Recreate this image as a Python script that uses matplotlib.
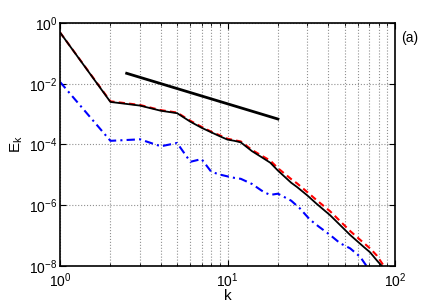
import numpy as np
import matplotlib.pyplot as plt
from matplotlib.ticker import LogLocator, NullFormatter

plt.rcParams['font.family'] = ['Liberation Sans', 'DejaVu Sans']
plt.rcParams['mathtext.fontset'] = 'custom'
plt.rcParams['mathtext.rm'] = 'Liberation Sans'

# spectra, values as log10(E_k)
k_black = [1, 2, 3, 4, 5, 6, 7, 8, 9, 10, 11, 12, 14, 16, 18, 20, 24, 26, 30,
           34, 41, 49, 54, 65, 71, 78, 85]
logE_black = [-0.31, -2.6, -2.72, -2.89, -2.97, -3.25, -3.45, -3.6, -3.73, -3.84,
              -3.88, -3.93, -4.22, -4.42, -4.6, -4.86, -5.26, -5.4, -5.68, -5.95,
              -6.33, -6.75, -6.98, -7.37, -7.55, -7.82, -8.05]

k_red = [1, 2, 3, 4, 5, 6, 7, 8, 9, 10, 11, 12, 14, 16, 18, 20, 24, 26, 30,
         34, 41, 49, 54, 65, 71, 78, 87]
logE_red = [-0.31, -2.58, -2.7, -2.87, -2.95, -3.22, -3.42, -3.58, -3.7, -3.81,
            -3.86, -3.9, -4.18, -4.37, -4.53, -4.78, -5.14, -5.28, -5.57, -5.83,
            -6.2, -6.62, -6.85, -7.24, -7.42, -7.66, -8.05]

k_blue = [1, 2, 3, 4, 5, 6, 7, 8, 9, 10, 11, 12, 14, 16, 17, 18, 20, 24, 27,
          31, 35, 41, 47, 54, 62, 68]
logE_blue = [-1.94, -3.88, -3.83, -4.06, -3.95, -4.57, -4.48, -4.9, -4.99, -5.05,
             -5.1, -5.13, -5.3, -5.52, -5.6, -5.66, -5.62, -5.85, -6.1, -6.47,
             -6.7, -6.98, -7.25, -7.42, -7.7, -8.02]

# k^(-5/3) reference line
k_ref = [2.5, 20]
E_ref = [0.022, 0.022 * (20 / 2.5) ** (-5 / 3)]

fig = plt.figure(figsize=(4.36, 3.06), dpi=100)
ax = fig.add_axes([0.1376, 0.1307, 0.7684, 0.7943])

ax.loglog(k_red, 10 ** np.array(logE_red), color='red', ls='--', lw=1.5, dashes=(3, 2))
ax.loglog(k_black, 10 ** np.array(logE_black), color='black', ls='-', lw=1.3)
ax.loglog(k_blue, 10 ** np.array(logE_blue), color='blue', ls='-.', lw=1.5,
          dashes=(4, 2, 1, 2))
ax.loglog(k_ref, E_ref, color='black', lw=2)

ax.set_xlim(1, 100)
ax.set_ylim(1e-8, 1)
ax.set_yticks([1e-8, 1e-6, 1e-4, 1e-2, 1])
ax.yaxis.set_minor_locator(LogLocator(base=10, subs=[]))
ax.xaxis.set_minor_locator(LogLocator(base=10, subs=np.arange(2, 10)))
ax.xaxis.set_minor_formatter(NullFormatter())

ax.grid(True, which='major', color='#909090', ls=':', lw=0.8)
ax.grid(True, which='minor', axis='x', color='#909090', ls=':', lw=0.8)
ax.tick_params(which='both', direction='in', top=True, right=True, labelsize=10)
ax.tick_params(axis='y', pad=2)
ax.tick_params(axis='x', pad=4)
ax.tick_params(which='major', length=4)
ax.tick_params(which='minor', length=2)
for s in ax.spines.values():
    s.set_linewidth(1.2)

ax.set_xlabel('k', fontsize=11, labelpad=-1)
ax.set_ylabel(r'E$_\mathregular{k}$', fontsize=11, labelpad=3)
fig.text(0.921, 0.862, '(a)', fontsize=10)

fig.savefig('out.png', dpi=100)
